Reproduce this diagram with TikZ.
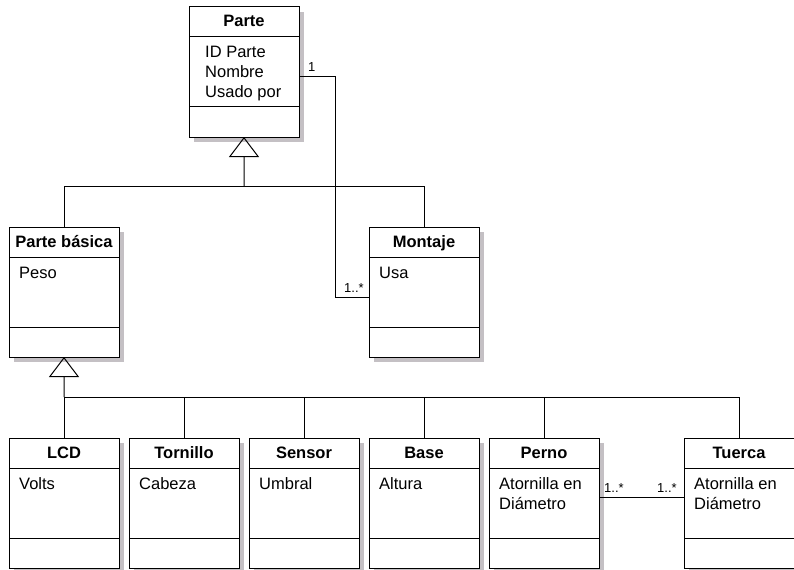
\documentclass[tikz,border=0pt]{standalone}
\usepackage{fontspec}
\setmainfont{Liberation Sans}
\usetikzlibrary{arrows.meta}
\definecolor{shadowgray}{RGB}{196,192,196}

\tikzset{
  line/.style={line width=1bp, draw=black},
  classbox/.style={line, fill=white, rectangle, anchor=north west,
    minimum width=110bp, minimum height=130bp, inner sep=0pt, outer sep=0pt},
  boxshadow/.style={fill=shadowgray, draw=none, rectangle, anchor=north west,
    minimum width=110bp, minimum height=130bp, inner sep=0pt, outer sep=0pt},
  classtitle/.style={anchor=base, inner sep=0pt, font=\fontsize{16.5bp}{20bp}\selectfont\bfseries},
  classattr/.style={anchor=base west, inner sep=0pt, font=\fontsize{16.5bp}{20bp}\selectfont},
  mult/.style={anchor=base west, inner sep=0pt, font=\fontsize{13bp}{15bp}\selectfont},
  gen/.style={line, -{Triangle[open, length=20bp, width=30bp, line width=1bp]}},
}

% \umlclass[attribute indent]{name}{left}{top}{title}{attribute list}
\newcommand\umlclass[6][10]{%
  \node[boxshadow] (#2-shadow) at (#3+5,#4+5) {};
  \node[classbox] (#2) at (#3,#4) {};
  \draw[line] (#3,#4+30) -- ++(110,0);
  \draw[line] (#3,#4+100) -- ++(110,0);
  \node[classtitle] (#2-title) at (#3+55,#4+20) {#5};
  \foreach \t [count=\i] in {#6} {
    \node[classattr] (#2-attr\i) at (#3+#1,#4+31+20*\i) {\t};
  }
}

\begin{document}
\begin{tikzpicture}[x=1bp, y=-1bp]
  \useasboundingbox (0,0) rectangle (794,570);
  \clip (0,0) rectangle (794,570);

  % classes
  \umlclass[16]{parte}{189}{7}{Parte}{ID Parte, Nombre, Usado por}
  \umlclass{basica}{9}{227}{Parte básica}{Peso}
  \umlclass{montaje}{369}{227}{Montaje}{Usa}
  \umlclass{lcd}{9}{438}{LCD}{Volts}
  \umlclass{tornillo}{129}{438}{Tornillo}{Cabeza}
  \umlclass{sensor}{249}{438}{Sensor}{Umbral}
  \umlclass{base}{369}{438}{Base}{Altura}
  \umlclass{perno}{489}{438}{Perno}{Atornilla en, Diámetro}
  \umlclass{tuerca}{684}{438}{Tuerca}{Atornilla en, Diámetro}

  % generalization: Parte
  \coordinate (j1) at (244,187);
  \draw[gen] (j1) -- (parte.south);
  \draw[line] (basica.north) |- (j1);
  \draw[line] (montaje.north) |- (j1);

  % generalization: Parte básica
  \coordinate (j2) at (64,397);
  \draw[gen] (j2) -- (basica.south);
  \draw[line] (lcd.north) |- (tuerca.north |- j2) -- (tuerca.north);
  \foreach \c in {tornillo, sensor, base, perno}
    \draw[line] (\c.north) -- (\c.north |- j2);

  % association Parte -- Montaje
  \coordinate (a1) at (335,77);
  \coordinate (a2) at (335,297);
  \draw[line] (parte.east |- a1) -- (a1) -- (a2) -- (montaje.west |- a2);
  \node[mult] (m1) at (308,72) {1};
  \node[mult] (m2) at (344,292) {1..*};

  % association Perno -- Tuerca
  \coordinate (a3) at (640,497);
  \draw[line] (perno.east |- a3) -- (tuerca.west |- a3);
  \node[mult] (m3) at (604,492) {1..*};
  \node[mult] (m4) at (657,492) {1..*};
\end{tikzpicture}
\end{document}
